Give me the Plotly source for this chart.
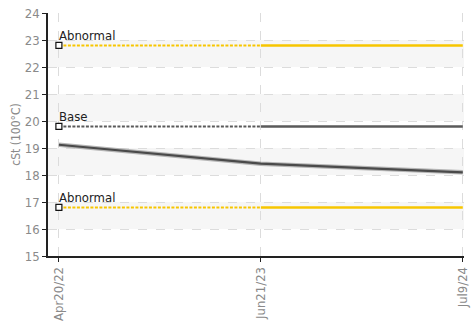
import plotly.graph_objects as go

# ---- data ----
categories = ["Apr20/22", "Jun21/23", "Jul9/24"]
viscosity = [19.12, 18.42, 18.1]
upper_abnormal = 22.8
base_value = 19.8
lower_abnormal = 16.8
limit_labels = ["Abnormal", "Base", "Abnormal"]
y_ticks = list(range(15, 25))

x_idx = list(range(len(categories)))
YELLOW = "#f7c600"
GRAY = "#5a5a5a"
NARROW = "Liberation Sans Narrow, DejaVu Sans Condensed, Roboto, sans-serif"

fig = go.Figure()

# alternating bands
for lo in range(16, 24, 2):
    fig.add_shape(type="rect", xref="paper", x0=0, x1=1, yref="y", y0=lo, y1=lo + 1,
                  fillcolor="#f6f6f6", line_width=0, layer="below")

limits = [(upper_abnormal, YELLOW, limit_labels[0]),
          (base_value, GRAY, limit_labels[1]),
          (lower_abnormal, YELLOW, limit_labels[2])]

for val, col, lab in limits:
    # dotted part (first to second point)
    fig.add_trace(go.Scatter(x=x_idx[:2], y=[val, val], mode="lines",
                             line=dict(color=col, width=2, dash="3px,1.5px"),
                             hoverinfo="skip", showlegend=False))
    # solid part
    fig.add_trace(go.Scatter(x=x_idx[1:], y=[val, val], mode="lines",
                             line=dict(color=col, width=2.5),
                             hoverinfo="skip", showlegend=False))
    fig.add_trace(go.Scatter(x=[x_idx[0]], y=[val], mode="markers",
                             marker=dict(symbol="square", size=6, color="white",
                                         line=dict(color="#111", width=1.2)),
                             hoverinfo="skip", showlegend=False))
    fig.add_annotation(x=x_idx[0], y=val, text=lab, showarrow=False,
                       xanchor="left", yanchor="bottom", xshift=-2, yshift=0,
                       font=dict(family=NARROW, size=13, color="#222"))

# trend line with soft shadow
fig.add_trace(go.Scatter(x=x_idx, y=viscosity, mode="lines",
                         line=dict(color="#b5b5b5", width=4.5),
                         hoverinfo="skip", showlegend=False))
fig.add_trace(go.Scatter(x=x_idx, y=viscosity, mode="lines",
                         line=dict(color="#4a4a4a", width=2.2),
                         showlegend=False))

tick_font = dict(family=NARROW, size=13, color="#8a8a8a")

fig.update_xaxes(range=[-0.054, 2.006], tickvals=x_idx, ticktext=categories,
                 tickangle=-90, tickfont=tick_font, ticklabeloverflow="allow",
                 showgrid=True, gridcolor="#dcdcdc", griddash="dash", gridwidth=1,
                 showline=True, linecolor="#222", linewidth=1.5,
                 ticks="outside", ticklen=4, tickcolor="#222",
                 zeroline=False)
fig.update_yaxes(range=[15, 24], tickvals=y_ticks, tickfont=tick_font,
                 ticklabeloverflow="allow",
                 showgrid=True, gridcolor="#dcdcdc", griddash="dash", gridwidth=1,
                 showline=True, linecolor="#222", linewidth=1.5,
                 ticks="outside", ticklen=4, tickcolor="#222",
                 zeroline=False,
                 title=dict(text="cSt (100°C)", standoff=2,
                            font=dict(family=NARROW, size=12, color="#8a8a8a")))

fig.update_layout(width=474, height=325,
                  margin=dict(l=48, r=4, t=13, b=61),
                  paper_bgcolor="white", plot_bgcolor="white",
                  showlegend=False)

fig.write_html("out.html")
